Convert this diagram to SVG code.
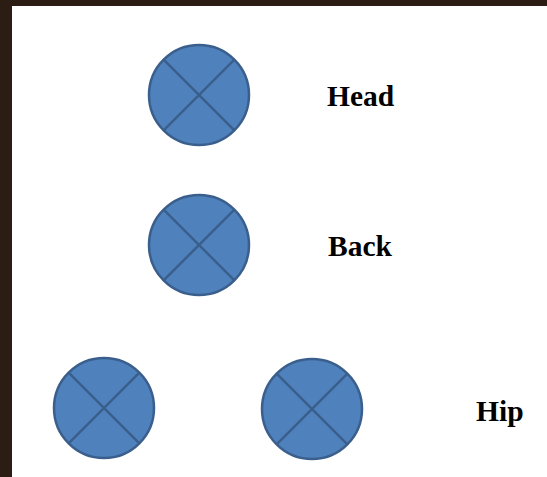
<svg xmlns="http://www.w3.org/2000/svg" width="547" height="477" viewBox="0 0 547 477">
<defs>
<style>
.disc{fill:#4F81BD;stroke:#3A5F8C;stroke-width:2.5}
.cross{stroke:#3A5F8C;stroke-width:2.5}
.lbl{font-family:"Liberation Serif","Times New Roman",serif;font-weight:bold;font-size:29.5px;fill:#000}
</style>
<g id="x"><circle class="disc" cx="0" cy="0" r="50" fill="#4F81BD" stroke="#3A5F8C" stroke-width="2.5"/><line class="cross" x1="-35.4" y1="-35.4" x2="35.4" y2="35.4" stroke="#3A5F8C" stroke-width="2.5"/><line class="cross" x1="35.4" y1="-35.4" x2="-35.4" y2="35.4" stroke="#3A5F8C" stroke-width="2.5"/></g>
</defs>
<rect x="0" y="0" width="547" height="477" fill="#2b1c14"/>
<rect x="12" y="6" width="535" height="471" fill="#ffffff"/>
<g id="head" class="node"><use href="#x" x="199" y="95"/><text class="lbl" x="327" y="106">Head</text></g>
<g id="back" class="node"><use href="#x" x="199" y="245"/><text class="lbl" x="328" y="256">Back</text></g>
<g id="hip-left" class="node"><use href="#x" x="104" y="408"/></g>
<g id="hip-right" class="node"><use href="#x" x="312" y="409"/></g>
<g id="hip-label"><text class="lbl" x="476" y="421">Hip</text></g>
<g id="connectors"></g>
</svg>
